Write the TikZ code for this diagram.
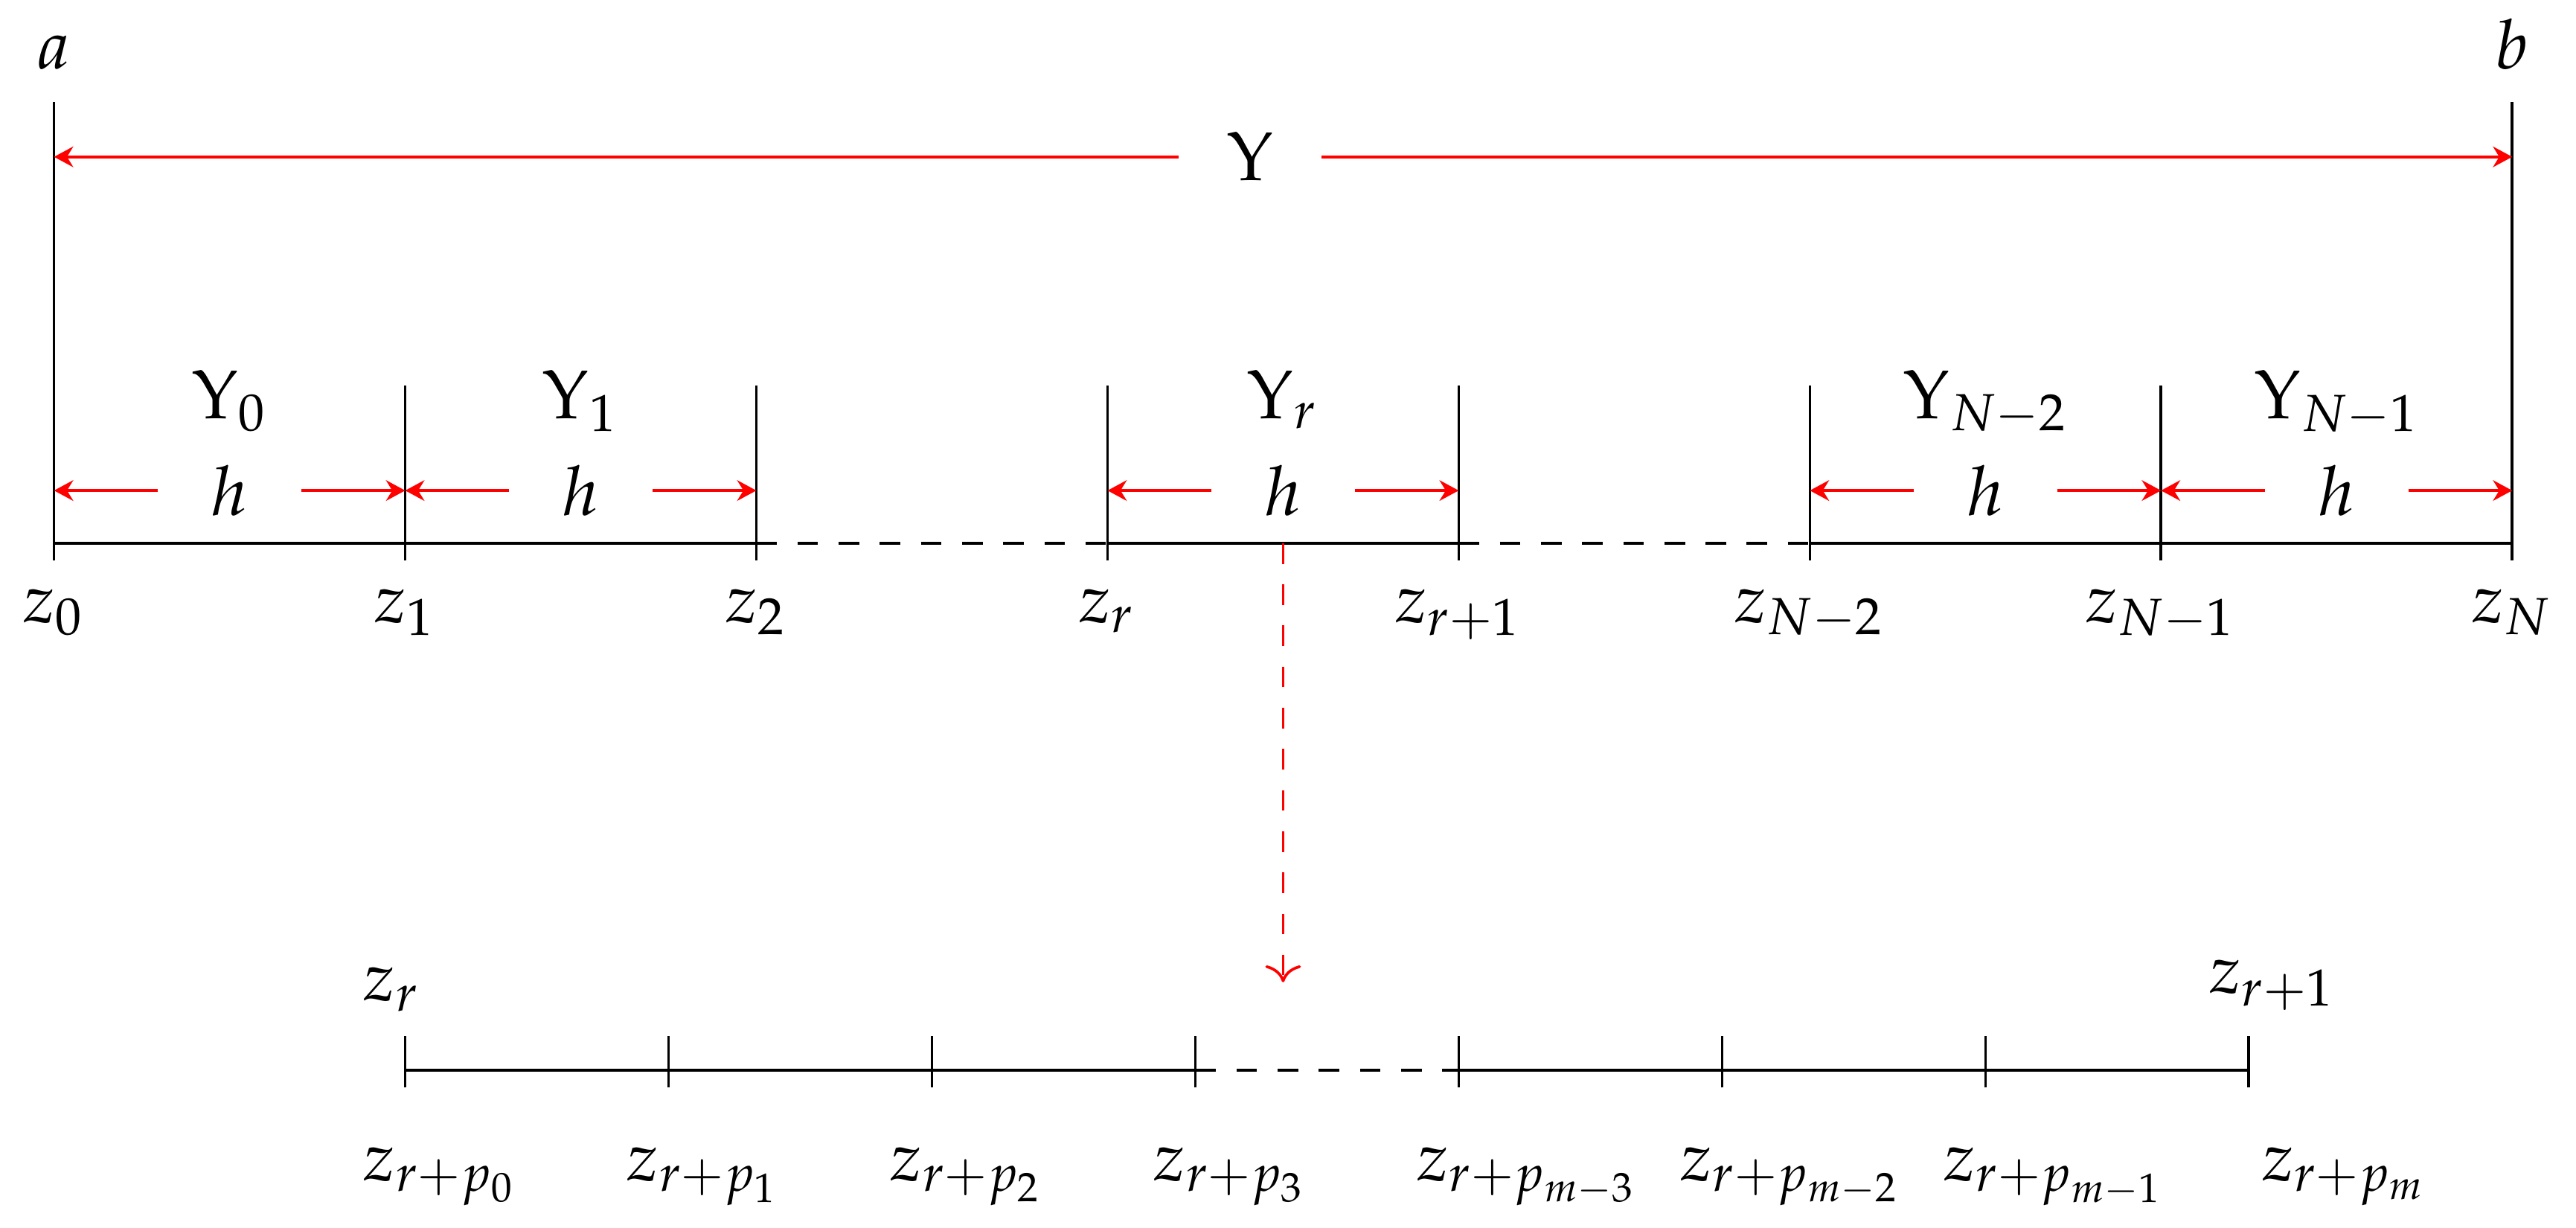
\documentclass[tikz,border=0pt]{standalone}
\usepackage{amsmath, amssymb}
\usepackage{mathpazo}
\usepackage{xcolor}
\usetikzlibrary{arrows.meta}

\begin{document}
\begin{tikzpicture}[
    dim/.style={red, -{Stealth[length=2.8pt, width=3pt]}},
    gap/.style={minimum width=0.72cm, inner sep=0pt},
    lbl/.style={anchor=base west, inner sep=0pt}]
    \useasboundingbox (-0.277,-3.509) rectangle (12.927,2.784);

    % grid points on the main line
    \coordinate (z0) at (0,0);
    \coordinate (z1) at (1.8,0);
    \coordinate (z2) at (3.6,0);
    \coordinate (zr) at (5.4,0);
    \coordinate (zr1) at (7.2,0);
    \coordinate (zN2) at (9.0,0);
    \coordinate (zN1) at (10.8,0);
    \coordinate (zN) at (12.6,0);

    % main line
    \draw (z0) -- (z2);
    \draw[dashed] (z2) -- (zr);
    \draw (zr) -- (zr1);
    \draw[dashed] (zr1) -- (zN2);
    \draw (zN2) -- (zN);

    % ticks
    \draw ([yshift=-0.09cm]z0) -- ([yshift=2.26cm]z0);
    \draw ([yshift=-0.09cm]z1) -- ([yshift=0.81cm]z1);
    \draw ([yshift=-0.09cm]z2) -- ([yshift=0.81cm]z2);
    \draw ([yshift=-0.09cm]zr) -- ([yshift=0.81cm]zr);
    \draw ([yshift=-0.09cm]zr1) -- ([yshift=0.81cm]zr1);
    \draw ([yshift=-0.09cm]zN2) -- ([yshift=0.81cm]zN2);
    \draw ([yshift=-0.09cm]zN1) -- ([yshift=0.81cm]zN1);
    \draw ([yshift=-0.09cm]zN) -- ([yshift=2.26cm]zN);

    % labels of the grid points
    \node[anchor=base] (lz0) at (0,-0.405) {$z_0$};
    \node[anchor=base] (lz1) at (1.8,-0.405) {$z_1$};
    \node[anchor=base] (lz2) at (3.6,-0.405) {$z_2$};
    \node[anchor=base] (lzr) at (5.4,-0.405) {$z_r$};
    \node[anchor=base] (lzr1) at (7.2,-0.405) {$z_{r+1}$};
    \node[anchor=base] (lzN2) at (9.0,-0.405) {$z_{N-2}$};
    \node[anchor=base] (lzN1) at (10.8,-0.405) {$z_{N-1}$};
    \node[anchor=base] (lzN) at (12.6,-0.405) {$z_N$};

    \node[anchor=base] (a) at (0,2.43) {$a$};
    \node[anchor=base] (b) at (12.6,2.43) {$b$};

    % whole interval
    \node[gap] (Y) at (6.13,1.98) {$\Upsilon$};
    \draw[dim] (Y) -- (z0 |- Y);
    \draw[dim] (Y) -- (zN |- Y);

    % subintervals
    \node[anchor=base] (Y0) at (0.9,0.64) {$\Upsilon_0$};
    \node[anchor=base] (Y1) at (2.7,0.64) {$\Upsilon_1$};
    \node[anchor=base] (Yr) at (6.3,0.64) {$\Upsilon_r$};
    \node[anchor=base] (YN2) at (9.9,0.64) {$\Upsilon_{N-2}$};
    \node[anchor=base] (YN1) at (11.7,0.64) {$\Upsilon_{N-1}$};

    \node[gap] (h0) at (0.9,0.27) {$h$};
    \node[gap] (h1) at (2.7,0.27) {$h$};
    \node[gap] (hr) at (6.3,0.27) {$h$};
    \node[gap] (hN2) at (9.9,0.27) {$h$};
    \node[gap] (hN1) at (11.7,0.27) {$h$};
    \draw[dim] (h0) -- (z0 |- h0);
    \draw[dim] (h0) -- (z1 |- h0);
    \draw[dim] (h1) -- (z1 |- h1);
    \draw[dim] (h1) -- (z2 |- h1);
    \draw[dim] (hr) -- (zr |- hr);
    \draw[dim] (hr) -- (zr1 |- hr);
    \draw[dim] (hN2) -- (zN2 |- hN2);
    \draw[dim] (hN2) -- (zN1 |- hN2);
    \draw[dim] (hN1) -- (zN1 |- hN1);
    \draw[dim] (hN1) -- (zN |- hN1);

    % zoom into [z_r, z_{r+1}]
    \coordinate (mid) at (6.3,0);
    \coordinate (tip) at (6.3,-2.25);
    \draw[red, dashed, ->] (mid) -- (tip);

    % refined line
    \coordinate (p0) at (1.8,-2.7);
    \coordinate (p1) at (3.15,-2.7);
    \coordinate (p2) at (4.5,-2.7);
    \coordinate (p3) at (5.85,-2.7);
    \coordinate (pm3) at (7.2,-2.7);
    \coordinate (pm2) at (8.55,-2.7);
    \coordinate (pm1) at (9.9,-2.7);
    \coordinate (pm) at (11.25,-2.7);

    \draw (p0) -- (p3);
    \draw[dashed] (p3) -- (pm3);
    \draw (pm3) -- (pm);

    \draw ([yshift=-0.09cm]p0) -- ([yshift=0.175cm]p0);
    \draw ([yshift=-0.09cm]p1) -- ([yshift=0.175cm]p1);
    \draw ([yshift=-0.09cm]p2) -- ([yshift=0.175cm]p2);
    \draw ([yshift=-0.09cm]p3) -- ([yshift=0.175cm]p3);
    \draw ([yshift=-0.09cm]pm3) -- ([yshift=0.175cm]pm3);
    \draw ([yshift=-0.09cm]pm2) -- ([yshift=0.175cm]pm2);
    \draw ([yshift=-0.09cm]pm1) -- ([yshift=0.175cm]pm1);
    \draw ([yshift=-0.09cm]pm) -- ([yshift=0.175cm]pm);

    \node[lbl] (tzr) at (1.58,-2.346) {$z_r$};
    \node[lbl] (tzr1) at (11.04,-2.307) {$z_{r+1}$};

    \node[lbl] (lp0) at (1.58,-3.268) {$z_{r+p_0}$};
    \node[lbl] (lp1) at (2.93,-3.268) {$z_{r+p_1}$};
    \node[lbl] (lp2) at (4.28,-3.268) {$z_{r+p_2}$};
    \node[lbl] (lp3) at (5.63,-3.268) {$z_{r+p_3}$};
    \node[lbl] (lpm3) at (6.98,-3.268) {$z_{r+p_{m-3}}$};
    \node[lbl] (lpm2) at (8.33,-3.268) {$z_{r+p_{m-2}}$};
    \node[lbl] (lpm1) at (9.68,-3.268) {$z_{r+p_{m-1}}$};
    \node[lbl] (lpm) at (11.31,-3.268) {$z_{r+p_m}$};
\end{tikzpicture}
\end{document}
